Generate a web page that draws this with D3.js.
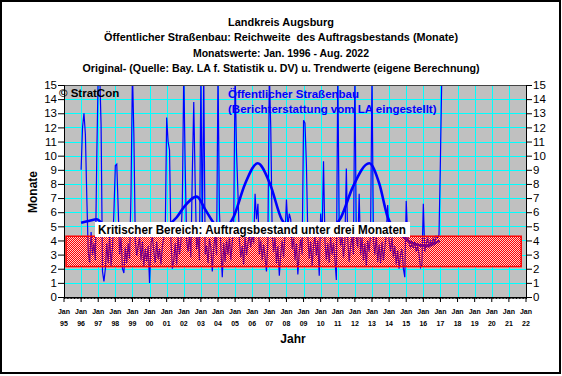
<!DOCTYPE html>
<html>
<head>
<meta charset="utf-8">
<script src="https://cdn.jsdelivr.net/npm/d3@7"></script>
<style>
  body { margin: 0; background: #fff; }
  svg { display: block; font-family: Arial, "Liberation Sans", sans-serif; }
</style>
</head>
<body>
<svg id="chart" width="562" height="376"></svg>
<script>
// Monatswerte ab Jan. 1996 (Werte > 15 werden abgeschnitten)
var startYear = 1996;
var reichweite = [
  9.0, 12.0, 13.0, 11.5, 7.0, 3.2, 2.4, 4.6, 3.0, 3.8, 2.6, 10.0,   // 1996
  16, 16, 12.2, 1.8, 1.1, 2.0, 3.8, 2.4, 4.3, 2.2, 3.5, 6.0,        // 1997
  9.3, 9.4, 6.3, 3.0, 4.2, 2.0, 1.7, 3.5, 2.4, 3.8, 2.7, 7.4,       // 1998
  16, 11.5, 4.0, 2.9, 3.6, 4.2, 2.6, 3.9, 2.2, 3.4, 2.5, 3.6,       // 1999
  1.0, 3.8, 4.3, 3.2, 2.4, 3.9, 2.7, 3.4, 2.3, 3.6, 4.2, 4.5,       // 2000
  12.7, 11.0, 10.4, 4.0, 2.0, 2.6, 3.8, 2.3, 4.3, 3.0, 3.9, 6.8,    // 2001
  16, 9.2, 4.0, 3.2, 4.4, 2.8, 8.8, 13.8, 8.0, 3.4, 4.3, 2.6,       // 2002
  16, 4.5, 16, 3.0, 3.6, 2.4, 4.1, 3.5, 1.8, 3.5, 4.4, 3.0,         // 2003
  16, 6.0, 3.5, 1.4, 3.8, 2.5, 4.0, 3.0, 4.2, 2.6, 3.9, 5.0,        // 2004
  16, 10.2, 7.3, 4.0, 2.8, 3.6, 2.3, 4.3, 3.0, 3.8, 4.4, 3.5,       // 2005
  4.5, 3.8, 7.3, 5.5, 6.6, 3.0, 4.0, 2.6, 3.7, 2.8, 1.8, 4.0,       // 2006
  16, 12.0, 4.5, 3.2, 4.2, 2.4, 3.6, 1.5, 3.0, 4.0, 2.8, 4.4,       // 2007
  6.9, 5.0, 5.9, 5.5, 3.4, 4.2, 2.6, 3.8, 1.6, 3.2, 4.1, 3.0,       // 2008
  12.5, 12.3, 9.4, 4.3, 2.7, 3.9, 2.2, 3.6, 4.3, 2.9, 4.0, 1.5,     // 2009
  5.9, 4.2, 9.6, 4.0, 2.6, 3.8, 2.4, 4.2, 3.0, 3.8, 2.6, 1.2,       // 2010
  16, 5.0, 3.6, 4.3, 2.8, 3.9, 9.1, 4.0, 2.5, 3.6, 4.3, 3.0,        // 2011
  16, 4.2, 3.5, 7.3, 3.0, 4.2, 2.6, 3.8, 2.2, 4.0, 3.2, 4.4,        // 2012
  16, 4.0, 3.0, 4.3, 2.5, 3.7, 2.4, 3.9, 2.6, 3.5, 4.4, 6.5,        // 2013
  4.0, 3.2, 4.2, 2.8, 3.6, 2.3, 3.3, 2.0, 3.0, 3.4, 2.0, 1.4,       // 2014
  6.8, 4.3, 3.8, 3.5, 3.7, 3.5, 3.9, 3.2, 3.6, 3.0, 2.1, 2.3,       // 2015
  6.6, 3.2, 3.7, 4.2, 3.5, 4.0, 3.6, 4.2, 3.8, 4.3, 4.2, 4.4,       // 2016
  9.8, 16                                                           // 2017
];

// Trendwerte (eigene Berechnung)
var trendYears  = [1996.0, 1996.5, 1996.9, 1997.4, 1998.2, 1999.2, 2000.2, 2001.0, 2001.59, 2002.0, 2002.76, 2003.25, 2003.63, 2004.2, 2004.9, 2005.58, 2006.32, 2007.04, 2007.72, 2008.5, 2009.4, 2010.3, 2011.19, 2011.87, 2012.84, 2013.43, 2013.92, 2014.6, 2015.4, 2016.2, 2016.95];
var trendValues = [5.25, 5.4, 5.5, 5.0, 4.6, 4.5, 4.6, 5.0, 5.64, 6.35, 7.1, 6.2, 5.45, 4.7, 5.64, 8.0, 9.46, 8.0, 5.5, 4.6, 4.4, 4.6, 5.64, 7.76, 9.46, 8.0, 5.64, 4.5, 3.8, 3.6, 4.0];

var titleLines = [
  "Landkreis Augsburg",
  "Öffentlicher Straßenbau: Reichweite  des Auftragsbestands (Monate)",
  "Monatswerte: Jan. 1996 - Aug. 2022",
  "Original- (Quelle: Bay. LA f. Statistik u. DV) u. Trendwerte (eigene Berechnung)"
];
var titleWidths = [106, 354, 176, 397];
var yTicks = d3.range(0, 16);
var xYears = d3.range(1995, 2023);
var kritischBereich = [2.15, 4.3];
var kritischJahre = [1995.12, 2021.72];

var margin = {top: 85, right: 36, bottom: 79, left: 64},
    width = 562 - margin.left - margin.right,
    height = 376 - margin.top - margin.bottom;

var svg = d3.select("#chart");

// outer frame
svg.append("rect")
    .attr("x", 1).attr("y", 1)
    .attr("width", 559).attr("height", 372)
    .attr("fill", "#fff")
    .attr("stroke", "#000")
    .attr("stroke-width", 2);

var defs = svg.append("defs");
var pat = defs.append("pattern")
    .attr("id", "checker")
    .attr("width", 2).attr("height", 2)
    .attr("patternUnits", "userSpaceOnUse");
pat.append("rect").attr("x", 0).attr("y", 0).attr("width", 1).attr("height", 1).attr("fill", "#ff0000");
pat.append("rect").attr("x", 1).attr("y", 1).attr("width", 1).attr("height", 1).attr("fill", "#ff0000");

defs.append("clipPath").attr("id", "plotclip")
    .append("rect").attr("width", width).attr("height", height);

var g = svg.append("g")
    .attr("transform", "translate(" + margin.left + "," + margin.top + ")");

var x = d3.scaleLinear().domain([1995, 2022]).range([0, width]);
var y = d3.scaleLinear().domain([0, 15]).range([height, 0]);

// title
svg.selectAll(".title")
    .data(titleLines)
    .enter().append("text")
    .attr("class", "title")
    .attr("x", 281)
    .attr("y", function (d, i) { return 26 + i * 15.3; })
    .attr("text-anchor", "middle")
    .attr("textLength", function (d, i) { return titleWidths[i]; })
    .attr("lengthAdjust", "spacingAndGlyphs")
    .style("white-space", "pre")
    .style("font-size", "11.5px")
    .style("font-weight", "bold")
    .text(function (d) { return d; });

// plot background
g.append("rect")
    .attr("width", width).attr("height", height)
    .attr("fill", "#c0c0c0");

// grid
g.selectAll(".hgrid")
    .data(yTicks.filter(function (d) { return d > 0 && d < 15; }))
    .enter().append("line")
    .attr("x1", 0).attr("x2", width)
    .attr("y1", function (d) { return Math.round(y(d)) + 0.5; })
    .attr("y2", function (d) { return Math.round(y(d)) + 0.5; })
    .attr("stroke", "#00ffff");

g.selectAll(".vgrid")
    .data(xYears.filter(function (d) { return d > 1995 && d < 2022; }))
    .enter().append("line")
    .attr("y1", 0).attr("y2", height)
    .attr("x1", function (d) { return Math.round(x(d)) + 0.5; })
    .attr("x2", function (d) { return Math.round(x(d)) + 0.5; })
    .attr("stroke", "#00ffff");

// light underlay of the critical band
g.append("rect")
    .attr("x", x(kritischJahre[0]))
    .attr("y", y(kritischBereich[1]))
    .attr("width", x(kritischJahre[1]) - x(kritischJahre[0]))
    .attr("height", y(kritischBereich[0]) - y(kritischBereich[1]))
    .attr("fill", "#ffd0d0");

var plot = g.append("g").attr("clip-path", "url(#plotclip)");

var monthly = reichweite.map(function (v, i) { return {t: startYear + i / 12, v: v}; });

plot.append("path")
    .datum(monthly)
    .attr("fill", "none")
    .attr("stroke", "#0000ff")
    .attr("stroke-width", 1.2)
    .attr("d", d3.line()
        .x(function (d) { return x(d.t); })
        .y(function (d) { return y(d.v); }));

var trend = trendYears.map(function (t, i) { return {t: t, v: trendValues[i]}; });

plot.append("path")
    .datum(trend)
    .attr("fill", "none")
    .attr("stroke", "#0000ff")
    .attr("stroke-width", 2.6)
    .attr("d", d3.line()
        .curve(d3.curveMonotoneX)
        .x(function (d) { return x(d.t); })
        .y(function (d) { return y(d.v); }));

// critical band
g.append("rect")
    .attr("x", x(kritischJahre[0]))
    .attr("y", y(kritischBereich[1]))
    .attr("width", x(kritischJahre[1]) - x(kritischJahre[0]))
    .attr("height", y(kritischBereich[0]) - y(kritischBereich[1]))
    .attr("fill", "url(#checker)")
    .attr("stroke", "#ff0000")
    .attr("stroke-width", 1.5);

// label box
g.append("rect")
    .attr("x", 31).attr("y", 137)
    .attr("width", 315).attr("height", 15)
    .attr("fill", "#fff");
g.append("text")
    .attr("x", 34).attr("y", 149)
    .style("font-size", "12px")
    .style("font-weight", "bold")
    .attr("textLength", 308)
    .attr("lengthAdjust", "spacingAndGlyphs")
    .text("Kritischer Bereich: Auftragsbestand unter drei Monaten");

// notes
g.append("text")
    .attr("x", -5).attr("y", 12)
    .style("font-size", "11.5px")
    .style("font-weight", "bold")
    .text("© StratCon");
g.append("text")
    .attr("x", 164).attr("y", 13)
    .attr("fill", "#0000ff")
    .style("font-size", "11.5px")
    .style("font-weight", "bold")
    .text("Öffentlicher Straßenbau");
g.append("text")
    .attr("x", 164).attr("y", 28)
    .attr("fill", "#0000ff")
    .style("font-size", "11.5px")
    .style("font-weight", "bold")
    .text("(Berichterstattung vom LA eingestellt)");

// plot border top
g.append("line").attr("x1", 0).attr("x2", width).attr("y1", 0.5).attr("y2", 0.5).attr("stroke", "#444");

// axes
var yLeft = d3.axisLeft(y).tickValues(yTicks).tickSize(6).tickFormat(d3.format("d"));
var yRight = d3.axisRight(y).tickValues(yTicks).tickSize(6).tickFormat(d3.format("d"));

g.append("g").attr("class", "y-axis").call(yLeft)
    .call(function (a) { a.selectAll("text").style("font-size", "11.5px").attr("x", -7); });
g.append("g").attr("class", "y-axis").attr("transform", "translate(" + width + ",0)").call(yRight)
    .call(function (a) { a.selectAll("text").style("font-size", "11.5px").attr("x", 7); });

var xAxis = d3.axisBottom(x)
    .tickValues(d3.range(0, 27 * 12 + 1).map(function (m) { return 1995 + m / 12; }))
    .tickSize(2)
    .tickFormat("");
g.append("g").attr("class", "x-axis").attr("transform", "translate(0," + height + ")").call(xAxis)
    .call(function (a) { a.select(".domain").remove(); });
g.append("line").attr("x1", 0).attr("x2", width).attr("y1", height + 0.5).attr("y2", height + 0.5).attr("stroke", "#000");

g.selectAll(".ytick")
    .data(xYears)
    .enter().append("line")
    .attr("x1", function (d) { return x(d); })
    .attr("x2", function (d) { return x(d); })
    .attr("y1", height).attr("y2", height + 5)
    .attr("stroke", "#000");

var xl = g.selectAll(".xlab")
    .data(xYears)
    .enter().append("g")
    .attr("transform", function (d) { return "translate(" + x(d) + "," + height + ")"; });
xl.append("text")
    .attr("y", 17)
    .attr("text-anchor", "middle")
    .attr("fill", "#000")
    .style("font-size", "7px")
    .style("font-weight", "bold")
    .text("Jan");
xl.append("text")
    .attr("y", 29)
    .attr("text-anchor", "middle")
    .attr("fill", "#000")
    .style("font-size", "7px")
    .style("font-weight", "bold")
    .text(function (d) { return String(d).slice(2); });

g.selectAll(".domain, .tick line").attr("stroke", "#000");

// axis labels
svg.append("text")
    .attr("transform", "translate(37,192) rotate(-90)")
    .attr("text-anchor", "middle")
    .style("font-size", "12px")
    .style("font-weight", "bold")
    .text("Monate");
svg.append("text")
    .attr("x", 293).attr("y", 343)
    .attr("text-anchor", "middle")
    .style("font-size", "12px")
    .style("font-weight", "bold")
    .text("Jahr");
</script>
</body>
</html>
